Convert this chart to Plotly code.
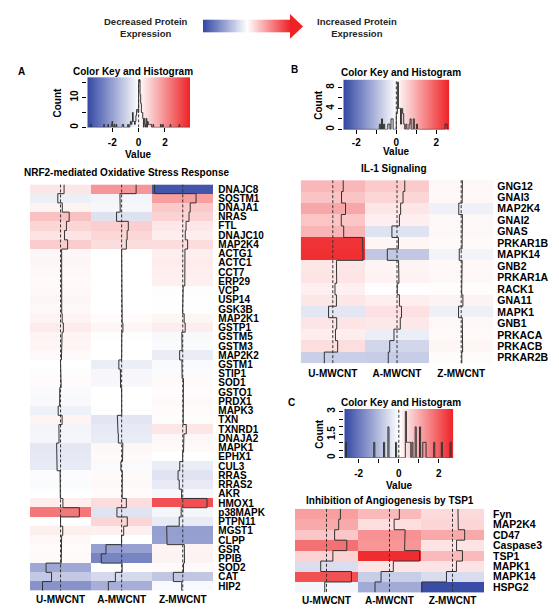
import numpy as np
import plotly.graph_objects as go

W, H = 559, 616
FONT = "Liberation Sans, Arial, Helvetica, sans-serif"
BLUE = "rgb(52,72,165)"
RED = "rgb(238,34,38)"
CS = [[0, BLUE], [0.5, "rgb(255,255,255)"], [1, RED]]
LINE = "#333333"

# ---------------- data ----------------
treatments = ["U-MWCNT", "A-MWCNT", "Z-MWCNT"]

nrf2_genes = ["DNAJC8", "SQSTM1", "DNAJA1", "NRAS", "FTL", "DNAJC10", "MAP2K4", "ACTG1",
              "ACTC1", "CCT7", "ERP29", "VCP", "USP14", "GSK3B", "MAP2K1", "GSTP1", "GSTM5",
              "GSTM3", "MAP2K2", "GSTM1", "STIP1", "SOD1", "GSTO1", "PRDX1", "MAPK3", "TXN",
              "TXNRD1", "DNAJA2", "MAPK1", "EPHX1", "CUL3", "RRAS", "RRAS2", "AKR", "HMOX1",
              "p38MAPK", "PTPN11", "MGST1", "CLPP", "GSR", "PPIB", "SOD2", "CAT", "HIP2"]
nrf2_u = [0.45, -0.35, 0.22, 1.1, 0.75, 0.5, 0.9, 0.14, 0.16, 0.13, 0.1, 0.12, 0.17, 0.15,
          0.21, 0.36, 0.2, 0.18, 0.11, -0.01, 0.06, 0.08, -0.1, -0.12, -0.3, 0.2, -0.21, -0.19,
          -0.5, -0.48, -0.44, -0.06, -0.09, -0.03, 0.3, 2.4, 0.0, 0.28, 0.14, 0.07, 0.09,
          -1.85, -1.15, -2.3]
nrf2_a = [1.85, -0.22, -0.18, -0.65, 0.85, 0.7, 0.6, 0.0, 0.0, 0.0, 0.0, 0.0, 0.0, 0.0,
          0.07, 0.16, 0.02, 0.0, 0.0, -0.36, -0.16, -0.14, 0.0, 0.0, 0.01, -0.55, -0.46, -0.42,
          0.15, 0.11, -0.1, 0.09, 0.12, 0.07, 0.6, -0.6, 0.72, 0.26, -0.01, -2.0, -2.6, 0.06,
          -0.8, -1.7]
nrf2_z = [-3.6, 1.7, 0.95, 0.8, 0.42, 0.32, 0.62, 0.28, 0.34, 0.3, 0.26, 0.06, 0.01, -0.02,
          0.18, 0.31, -0.12, -0.09, -0.4, -0.11, -0.08, 0.09, 0.08, 0.12, 0.07, 0.06, 0.45,
          0.15, 0.1, -0.01, -0.38, -0.6, -0.45, -0.15, 3.1, -0.2, -0.45, -2.05, -2.0, 0.2,
          0.22, 0.1, -1.2, -0.13]

il1_genes = ["GNG12", "GNAI3", "MAP2K4", "GNAI2", "GNAS", "PRKAR1B", "MAPK14", "GNB2",
             "PRKAR1A", "RACK1", "GNA11", "MAPK1", "GNB1", "PRKACA", "PRKACB", "PRKAR2B"]
il1_u = [0.86, 0.72, 1.05, 0.7, 0.9, 2.45, 2.5, 0.3, 0.32, 0.18, 0.3, -0.35, 0.32, 0.22,
         0.4, -0.7]
il1_a = [0.64, 0.5, 0.3, 0.2, -0.42, 0.12, -0.8, 0.13, 0.16, 0.02, 0.2, 0.37, 0.27, -0.25,
         -0.6, -0.72]
il1_z = [0.1, 0.08, -0.2, 0.1, 0.09, 0.07, -0.16, 0.08, 0.1, 0.04, 0.14, -0.22, 0.09, 0.07,
         0.12, 0.05]

tsp1_genes = ["Fyn", "MAP2K4", "CD47", "Caspase3", "TSP1", "MAPK1", "MAPK14", "HSPG2"]
tsp1_u = [1.2, 1.05, 0.7, 1.75, 0.55, -0.5, 2.15, -0.15]
tsp1_a = [0.85, 0.4, 1.35, 1.3, 2.6, 0.33, -0.73, -1.25]
tsp1_z = [0.47, 0.5, 1.05, 0.35, 0.86, 0.34, -0.52, -2.65]

# colour-key ranges (symmetric breaks) and histogram bin counts
key_ranges = {"A": 3.9, "B": 2.65, "C": 2.72}
key_bins = {"A": 150, "B": 100, "C": 100}

# ---------------- helpers ----------------
fig = go.Figure()
layout = {}


def px(x):
    return x / W


def py(y):
    return 1 - y / H


def bold(size, color="black"):
    return dict(family=FONT, size=size, color=color, weight="bold")


def note(text, x, y, size=10, angle=0, color="black", xanchor="center"):
    fig.add_annotation(text=text, x=px(x), y=py(y), xref="paper", yref="paper",
                       showarrow=False, font=bold(size, color), textangle=angle,
                       xanchor=xanchor, yanchor="middle", borderpad=0)


def ax(n):
    return ("xaxis" if n == 1 else f"xaxis{n}"), ("yaxis" if n == 1 else f"yaxis{n}"), \
           ("x" if n == 1 else f"x{n}"), ("y" if n == 1 else f"y{n}")


def panel(nk, nh, genes, series, R, nbins, key_box, hm_box, ytv, ytt, xtv, xtt,
          key_standoff, gene_standoff, col_standoff, gene_size):
    data = np.array(series, dtype=float).T  # rows x 3
    n = len(genes)

    # ---- colour key + histogram ----
    kxa, kya, kx, ky = ax(nk)
    edges = np.linspace(-R, R, nbins + 1)
    counts, _ = np.histogram(data.ravel(), bins=edges)
    ymax = counts.max() / 0.95
    grad = np.linspace(-R, R, 256)
    gedges = np.linspace(-R, R, 257)
    fig.add_trace(go.Heatmap(z=[grad], x=gedges, y=[0, ymax], colorscale=CS, zmin=-R, zmax=R,
                             showscale=False, hoverinfo="skip", xaxis=kx, yaxis=ky))
    fig.add_trace(go.Scatter(x=edges, y=list(counts) + [counts[-1]], mode="lines",
                             line=dict(color=LINE, width=1, shape="hv"), hoverinfo="skip",
                             xaxis=kx, yaxis=ky))
    fig.add_trace(go.Scatter(x=[0, 0], y=[0, ymax], mode="lines",
                             line=dict(color=LINE, width=1, dash="3px,2px"), hoverinfo="skip",
                             xaxis=kx, yaxis=ky))
    l, t, r, b = key_box
    layout[kxa] = dict(domain=[px(l), px(r)], range=[-R, R], anchor=ky, tickvals=xtv,
                       ticktext=xtt, ticks="outside", ticklen=4, tickcolor="black",
                       tickfont=bold(10), showgrid=False, zeroline=False, showline=False,
                       ticklabelstandoff=key_standoff, fixedrange=True)
    layout[kya] = dict(domain=[py(b), py(t)], range=[0, ymax], anchor=kx, tickvals=ytv,
                       ticktext=ytt, ticks="outside", ticklen=4, tickcolor="black",
                       tickangle=-90, tickfont=bold(10), showgrid=False, zeroline=False,
                       showline=False, fixedrange=True)

    # ---- heatmap with traces ----
    hxa, hya, hx, hy = ax(nh)
    fig.add_trace(go.Heatmap(z=data, x=[0, 1, 2], y=list(range(n)), colorscale=CS,
                             zmin=-R, zmax=R, showscale=False, hoverinfo="skip",
                             xaxis=hx, yaxis=hy))
    ys = np.ravel([[i - 0.5, i + 0.5] for i in range(n)])
    for j in range(3):
        pos = j - 0.5 + (data[:, j] + R) / (2 * R)
        fig.add_trace(go.Scatter(x=[j, j], y=[-0.5, n - 0.5], mode="lines",
                                 line=dict(color=LINE, width=1, dash="3px,2px"),
                                 hoverinfo="skip", xaxis=hx, yaxis=hy))
        fig.add_trace(go.Scatter(x=np.repeat(pos, 2), y=ys, mode="lines",
                                 line=dict(color=LINE, width=1), hoverinfo="skip",
                                 xaxis=hx, yaxis=hy))
    l, t, r, b = hm_box
    layout[hxa] = dict(domain=[px(l), px(r)], range=[-0.5, 2.5], anchor=hy,
                       tickvals=[0, 1, 2], ticktext=treatments, ticks="", tickfont=bold(10),
                       showgrid=False, zeroline=False, showline=False,
                       ticklabelstandoff=col_standoff, fixedrange=True)
    layout[hya] = dict(domain=[py(b), py(t)], range=[n - 0.5, -0.5], anchor=hx, side="right",
                       tickvals=list(range(n)), ticktext=genes, ticks="",
                       tickfont=bold(gene_size), showgrid=False, zeroline=False,
                       showline=False, ticklabelstandoff=gene_standoff, fixedrange=True)


# ---------------- arrow legend ----------------
arrow_steps = np.linspace(-1, 1, 120)
fig.add_trace(go.Heatmap(z=[arrow_steps], x=np.linspace(0, 1, 121), y=[0, 1], colorscale=CS,
                         zmin=-1, zmax=1, showscale=False, hoverinfo="skip",
                         xaxis="x", yaxis="y"))
layout["xaxis"] = dict(domain=[px(203), px(290.5)], range=[0, 1], visible=False,
                       fixedrange=True)
layout["yaxis"] = dict(domain=[py(31), py(17.5)], range=[0, 1], visible=False,
                       fixedrange=True)
fig.add_shape(type="path", xref="paper", yref="paper", line=dict(width=0), fillcolor=RED,
              path=f"M {px(290)},{py(12)} L {px(303)},{py(24.5)} L {px(290)},{py(37)} Z")
note("Decreased Protein<br>Expression", 146, 26, size=9.5, color="#262626")
note("Increased Protein<br>Expression", 356.5, 26, size=9.5, color="#262626")

# ---------------- panels ----------------
panel(2, 3, nrf2_genes, [nrf2_u, nrf2_a, nrf2_z], key_ranges["A"], key_bins["A"],
      (87.3, 75.5, 190, 126), (30, 183.3, 213.3, 591.7),
      [0, 5, 10, 15], ["0", "", "10", ""], [-2, 0, 2], ["-2", "0", "2"],
      2, 4, 1, 10)
panel(4, 5, il1_genes, [il1_u, il1_a, il1_z], key_ranges["B"], key_bins["B"],
      (343.3, 78, 449.3, 128), (300.7, 179, 493.3, 363.3),
      [0, 2, 4, 6, 8], ["0", "", "4", "", "8"], [-2, -1, 0, 1, 2], ["-2", "", "0", "", "2"],
      0, 3, 2, 10.5)
panel(6, 7, tsp1_genes, [tsp1_u, tsp1_a, tsp1_z], key_ranges["C"], key_bins["C"],
      (344.3, 409, 453.3, 458), (295, 509.3, 484, 593.3),
      [0, 0.5, 1, 1.5, 2, 2.5, 3], ["0", "", "", "1.5", "", "", "3"],
      [-2, -1, 0, 1, 2], ["-2", "", "0", "", "2"],
      2, 8, 1, 10.5)

# ---------------- titles and labels ----------------
note("A", 21.7, 70)
note("B", 294, 67.5)
note("C", 291.7, 402)
note("Color Key and Histogram", 133.3, 70)
note("Color Key and Histogram", 400.8, 70.7)
note("Color Key and Histogram", 400.5, 402)
note("NRF2-mediated Oxidative Stress Response", 126.7, 171)
note("IL-1 Signaling", 393.7, 167.5)
note("Inhibition of Angiogenesis by TSP1", 390, 501)
note("Value", 138.6, 153)
note("Value", 396, 150.5)
note("Value", 399, 486)
note("Count", 57.3, 100.7, angle=-90)
note("Count", 318.3, 103, angle=-90)
note("Count", 319.3, 433.5, angle=-90)

fig.update_layout(width=W, height=H, margin=dict(l=0, r=0, t=0, b=0), showlegend=False,
                  paper_bgcolor="white", plot_bgcolor="white", **layout)

fig.write_html("out.html", config={"displayModeBar": False},
               post_script="document.body.style.margin='0';document.body.style.padding='0';")
